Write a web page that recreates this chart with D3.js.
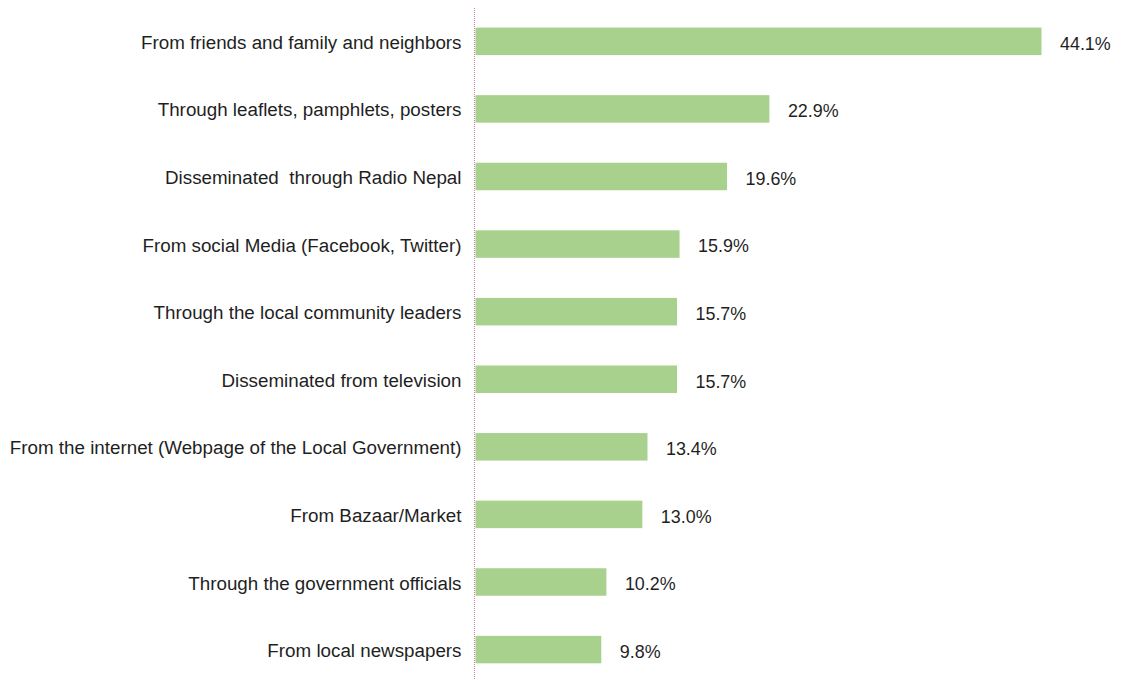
<!DOCTYPE html>
<html>
<head>
<meta charset="utf-8">
<script src="https://cdn.jsdelivr.net/npm/d3@7"></script>
<style>
  html, body { margin: 0; padding: 0; background: #fff; }
  svg { display: block; }
  text { font-family: "Liberation Sans", Arial, sans-serif; white-space: pre; }
</style>
</head>
<body>
<svg id="chart" width="1121" height="680"></svg>
<script>
// Sources of information, share of respondents (%)
const categories = [
  "From friends and family and neighbors",
  "Through leaflets, pamphlets, posters",
  "Disseminated  through Radio Nepal",
  "From social Media (Facebook, Twitter)",
  "Through the local community leaders",
  "Disseminated from television",
  "From the internet (Webpage of the Local Government)",
  "From Bazaar/Market",
  "Through the government officials",
  "From local newspapers"
];
const values = [44.1, 22.9, 19.6, 15.9, 15.7, 15.7, 13.4, 13.0, 10.2, 9.8];

const svg = d3.select("#chart");
const x0 = 475.5;

const x = d3.scaleLinear()
  .domain([0, 44.1])
  .range([x0, 1041.5]);

const y = d3.scaleBand()
  .domain(categories)
  .range([7.3, 683.6])
  .paddingInner(0.593)
  .paddingOuter(0.3);

const rows = categories.map((c, i) => ({ cat: c, val: values[i] }));

// bars
svg.append("g")
  .selectAll("rect")
  .data(rows)
  .join("rect")
  .attr("x", x(0))
  .attr("y", d => y(d.cat))
  .attr("width", d => x(d.val) - x(0))
  .attr("height", y.bandwidth())
  .attr("fill", "#a9d18e");

// value labels
svg.append("g")
  .selectAll("text")
  .data(rows)
  .join("text")
  .attr("x", d => x(d.val) + 18.5)
  .attr("y", d => y(d.cat) + y.bandwidth() / 2 + 2)
  .attr("dy", "0.35em")
  .attr("font-size", 17.9)
  .attr("fill", "#1f1f1f")
  .text(d => d.val.toFixed(1) + "%");

// category axis
const axis = d3.axisLeft(y).tickSize(0).tickPadding(13);
const g = svg.append("g")
  .attr("transform", `translate(${x0 - 1},1.5)`)
  .call(axis);
g.select(".domain").remove();
g.selectAll("text")
  .attr("font-size", 18.8)
  .attr("font-family", "\"Liberation Sans\", Arial, sans-serif")
  .attr("fill", "#1f1f1f")
  .style("white-space", "pre");

// dotted baseline
svg.append("line")
  .attr("x1", x0 - 1).attr("x2", x0 - 1)
  .attr("y1", 8).attr("y2", 680)
  .attr("stroke", "#c0809f")
  .attr("stroke-width", 1)
  .attr("stroke-dasharray", "1,1");
</script>
</body>
</html>
